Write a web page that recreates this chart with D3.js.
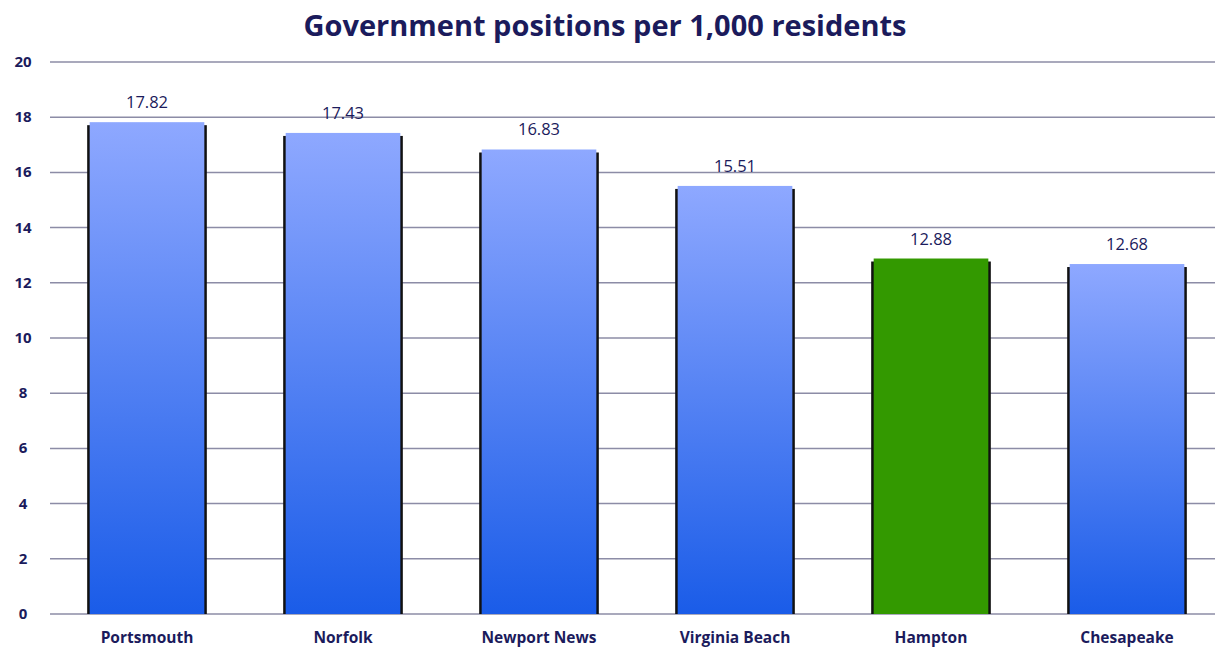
<!DOCTYPE html>
<html>
<head>
<meta charset="utf-8">
<script src="https://cdn.jsdelivr.net/npm/d3@7"></script>
<style>
  body { margin: 0; background: #fff; }
  text { font-family: "Open Sans", "Noto Sans", sans-serif; fill: #1b1b5c; }
</style>
</head>
<body>
<div id="chart"></div>
<script>
// chart data
let cities = ["Portsmouth", "Norfolk", "Newport News", "Virginia Beach", "Hampton", "Chesapeake"];
let positions = [17.82, 17.43, 16.83, 15.51, 12.88, 12.68];
let yTicks = [0, 2, 4, 6, 8, 10, 12, 14, 16, 18, 20];
let highlight = "Hampton";

let width = 1217, height = 649;
let margin = {top: 62, right: 2, bottom: 35, left: 50};

let svg = d3.select("#chart")
    .append("svg")
    .attr("width", width)
    .attr("height", height);

let defs = svg.append("defs");
let grad = defs.append("linearGradient")
    .attr("id", "blueGrad")
    .attr("x1", 0).attr("y1", 0).attr("x2", 0).attr("y2", 1);
grad.append("stop").attr("offset", "0%").attr("stop-color", "#8ea8ff");
grad.append("stop").attr("offset", "100%").attr("stop-color", "#1a5ce8");

// bands are 196px wide, last one runs past the right edge a little
let x = d3.scaleBand()
    .domain(cities)
    .range([49, 49 + 196 * cities.length])
    .paddingInner(0.415)
    .paddingOuter(0.2075);

let y = d3.scaleLinear()
    .domain([0, 20])
    .range([height - margin.bottom, margin.top]);

// gridlines
svg.append("g")
    .selectAll("line")
    .data(yTicks)
    .join("line")
    .attr("x1", margin.left)
    .attr("x2", width - margin.right)
    .attr("y1", d => y(d))
    .attr("y2", d => y(d))
    .attr("stroke", "#8c8ca6")
    .attr("stroke-width", 1.5);

// y axis labels
svg.append("g")
    .selectAll("text")
    .data(yTicks)
    .join("text")
    .attr("x", 23)
    .attr("y", d => y(d) + 5)
    .attr("text-anchor", "middle")
    .attr("font-size", 15)
    .attr("font-weight", "bold")
    .text(d => d);

// bars
let bars = svg.append("g")
    .selectAll("g")
    .data(cities)
    .join("g");

bars.append("rect")
    .attr("x", d => x(d) - 2.5)
    .attr("y", (d, i) => y(positions[i]) + 3)
    .attr("width", x.bandwidth() + 5)
    .attr("height", (d, i) => y(0) - y(positions[i]) - 3)
    .attr("fill", "#111");

bars.append("rect")
    .attr("x", d => x(d))
    .attr("y", (d, i) => y(positions[i]))
    .attr("width", x.bandwidth())
    .attr("height", (d, i) => y(0) - y(positions[i]))
    .attr("fill", d => d == highlight ? "#339900" : "url(#blueGrad)");

// value labels
bars.append("text")
    .attr("x", d => x(d) + x.bandwidth() / 2)
    .attr("y", (d, i) => y(positions[i]) - 14)
    .attr("text-anchor", "middle")
    .attr("font-size", 16.5)
    .text((d, i) => positions[i].toFixed(2));

// category labels
svg.append("g")
    .selectAll("text")
    .data(cities)
    .join("text")
    .attr("x", d => x(d) + x.bandwidth() / 2)
    .attr("y", height - 6)
    .attr("text-anchor", "middle")
    .attr("font-size", 15.5)
    .attr("font-weight", "bold")
    .text(d => d);

// title
svg.append("text")
    .attr("x", 605)
    .attr("y", 36)
    .attr("text-anchor", "middle")
    .attr("font-size", 29)
    .attr("font-weight", "bold")
    .text("Government positions per 1,000 residents");
</script>
</body>
</html>
